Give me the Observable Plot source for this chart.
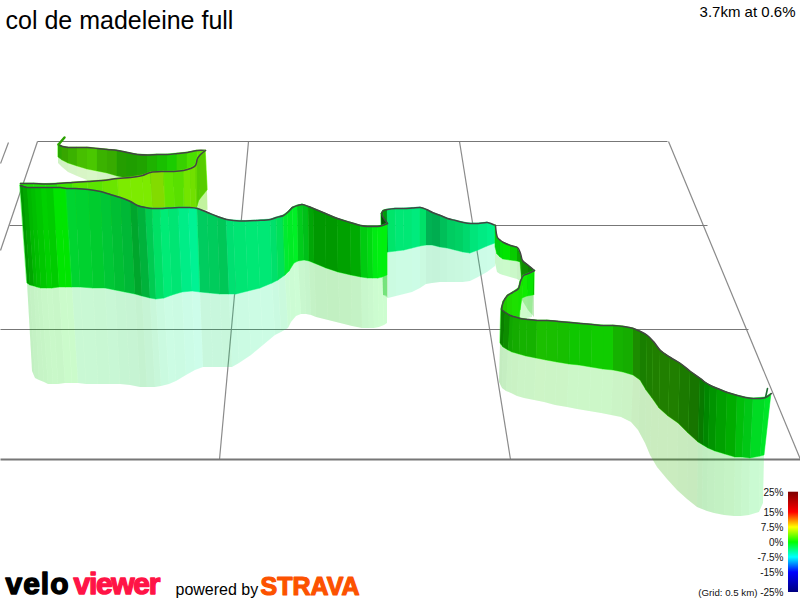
<!DOCTYPE html>
<html><head><meta charset="utf-8">
<script src="https://cdn.jsdelivr.net/npm/d3@7"></script>
<script src="https://cdn.jsdelivr.net/npm/@observablehq/plot@0.6"></script>
<style>
html,body{margin:0;padding:0;background:#fff;width:800px;height:600px;overflow:hidden}
.logoA text{letter-spacing:1px}
.logoB text{letter-spacing:-1.3px}
</style></head><body><div id="chart"></div>
<script>
// Ground grid
const gridH = [[37,141,667,141],[9,225,707,225],[0,329,748,329],[0,459,800,459]];
const gridV = [[37,141,0,250],[8,142,0,163],[248,141,219,459],[459,141,510,459],[668,141,800,459]];

// Section 1: far run, rising to the right
const s1X=[58,62,68,77,87,97,107,117,127,137,147,157,167,177,187,197,205];
const s1Top=[144,146,147,147,147,148,149,150,152,154,154.5,154,154,153,152,150,150];
const s1BaseX=[58,62,68,77,87,97,107,117,127,137,147,157,167,177,187,198,207];
const s1Base=[157,160,163,166,169,171,173,176,178,181,183,185,186,187,188,189,190];
const s1MirrorX=[58,62,68,77,87,97,107,117,127,137,147,157,167,177,187,198,208];
const s1Mirror=[163,167,172,176,180,186,190,195,200,205,206,206,206,207,207,209,210];
const s1Grade=[1.9,2.5,2.5,2.8,2.8,2.5,2.4,1.7,1.5,1.5,1.3,1,1,2,2.5,3];
const s1Shade=[.35,.35,.3,.25,.22,.3,.33,.38,.38,.36,.3,.25,.2,.18,.12,.1];

// Section 2: run back to the left
const s2X=[205,200,197,195,190,183,173,163,150,142,130,117,102,87,72,57,45,33,20];
const s2Top=[150,154,158,165,168,170,171,171,172,175,177,178,180,181,182,183,183.5,183,183];
const s2BaseX=[207,199,197,196,191,184,175,165,153,145,134,121,106,92,77,63,51,39,26];
const s2Base=[190,200,206,210,212,215,216,217,218,220,222,224,226,228,229,230,230,230,230];
const s2MirrorX=[207,199,198,197,192,186,177,168,156,148,137,125,110,96,82,69,57,45,32];
const s2Mirror=[210,212,214,225,225,225,225,225,225,225,225,225,225,225,225,225,225,225,225];
const s2Grade=[3.2,3,3.4,3.8,3.8,3,3.2,4.5,4,4,4,3.5,3,3,2,1,1,1];
const s2Shade=[.2,.2,.15,.12,.1,.12,.1,.14,.08,.08,.08,.1,.1,.1,.1,.1,.1,.12];

// Section 3: the long near wall on the left
const s3X=[20,23,27,31,35,41,46,53,60,66,75,88,100,110,120,130,137,145,152,160,168,178,188,197,207,217,226,233,245,257,270,276,283,287,292,297,302,308,313,325,337,350,360,367,372,377,382,387];
const s3Top=[185,186,187,187,187,187,187,187,187,188,188,189,191,194,197,201,205,207,208,208,207.5,207,207,208,212,216,219,220,220.5,220,219,217,215,212,207,205,204,206,208,213,218,222,225,226,226,226,225,223];
const s3BaseX=[27,30,34,37,41,47,52,59,66,72,80,93,105,115,125,135,142,150,156,164,172,182,192,200,210,220,229,236,248,260,272,278,285,289,294,298,304,309,314,326,338,351,361,368,373,378,382,387];
const s3Base=[283,285,286,287,288,288,288,287,287,287,287,288,288,290,292,294,296,298,299,298,295,292,291,292,293,294,294,294,291,288,283,280,275,271,263,261,260,261,263,268,272,275,277,278,278,278,277,275];
const s3MirrorX=[32,35,39,44,48,53,58,65,72,78,86,98,110,120,130,140,147,155,161,169,176,186,195,203,213,223,232,239,251,263,275,281,288,291,296,301,306,311,316,328,340,352,362,369,374,379,384,387];
const s3Mirror=[371,378,380,382,384,384,384,383,383,383,384,384,384,384,385,387,387,387,386,384,381,375,370,367,367,367,367,363,355,345,335,332,328,322,316,314,314,315,317,320,323,326,328,328,328,327,325,323];
const s3Grade=[0,0,0,0,0,0,0,0,0,-1.7,-1.7,-1.7,-2,-2,-2.2,-2,-2.5,-3,-3.4,-3.8,-3.8,-4.3,-4.6,-3.5,-3.4,-3.3,-3.8,-3.8,-3.8,-3.8,-3.6,-3,-1.5,-1.2,-1.2,-1,-1,-.3,-.1,0,0,-.1,-.6,-.6,-.6,-.5,-.4];
const s3Shade=[.4,.35,.28,.25,.22,.18,.2,.1,.1,.17,.18,.2,.22,.25,.28,.35,.3,.2,.12,.08,.1,.07,.05,.2,.2,.22,.12,.1,.09,.09,.12,.12,.08,.08,.06,.2,.25,.35,.4,.4,.37,.33,.2,.15,.08,.06,.06];

// Section 4: middle run behind the fold
const s4X=[387,384,381,383,387,395,403,412,420,426,432,440,447,455,463,470,478,487,495];
const s4Top=[223,219,213,210,209,208,208,207.5,207,209,212,215,218,220,222,223,223,222,225];
const s4BaseX=[387,385,382,384,388,396,404,412,420,426,432,440,447,455,463,470,478,487,495];
const s4Base=[252,251,250,251,252,251,250,248,246,245,245,247,248,250,252,253,250,246,243];
const s4MirrorX=[387,385,383,385,388,396,404,412,420,426,432,440,447,455,463,470,478,487,495];
const s4Mirror=[296,295,295,296,298,296,294,292,288,284,283,282,282,282,282,281,277,272,266];
const s4Grade=[-.5,-.5,-.5,-.5,-3.5,-3.8,-3.8,-4,-3.5,-3.5,-3.5,-3.5,-3.6,-3.6,-3.8,-4,-4.2,-4.3];
const s4Shade=[.45,.45,.45,.4,.1,.09,.09,.08,.12,.3,.32,.25,.2,.18,.15,.1,.08,.06];

// Section 5: the small hairpins
const s5X=[495,497,500,503,510,517,520,522,528,534];
const s5Top=[225,237,240,242,245,247,253,260,265,270];
const s5BaseX=[495,497,500,503,510,517,520,522,528,534];
const s5Base=[247,254,257,259,260,261,262,285,290,295];
const s5MirrorX=[495,497,500,503,510,517,520,522,528,534];
const s5Mirror=[263,272,274,275,277,279,281,300,310,317];
const s5Grade=[-.5,-.5,-.2,0,.3,.5,.8,.8,.8];
const s5Shade=[.2,.2,.12,.1,.2,.35,.4,.45,.5];

const s5bX=[534,528,523,520,518,512,507,503,501];
const s5bTop=[270,273,275,281,288,292,295,301,308];
const s5bBaseX=[533,527,522,520,518,512,507,503,501];
const s5bBase=[295,296,298,310,335,340,342,343,343];
const s5bMirrorX=[532,526,521,519,517,511,506,502,500];
const s5bMirror=[317,318,320,320,345,345,345,345,345];
const s5bGrade=[.2,.5,.8,.8,1,1.1,1.2,1];
const s5bShade=[.1,.08,.1,.12,.12,.15,.2,.3];

// Section 6: the near right run
const s6X=[501,505,510,513,520,527,537,547,558,570,580,592,603,613,623,633,640,647,653,660,670,680,690,700,705,710,717,727,737,745,753,765,771];
const s6Top=[309,312,315,316,318,319,320,320,321,322,323,324,325,325,326,328,331,335,341,350,357,363,371,378,382,385,388,392,395,397,398,397,393];
const s6BaseX=[500,503,508,512,519,526,536,546,557,569,579,591,603,613,623,633,640,646,652,659,668,678,688,698,703,708,715,725,735,742,750,760,764];
const s6Base=[343,347,350,352,354,356,358,360,362,364,365,367,369,370,372,375,380,390,398,408,416,423,433,442,445,448,451,454,457,457,458,456,455];
const s6MirrorX=[499,502,506,511,517,524,534,544,555,567,577,589,601,611,621,631,638,645,650,657,667,677,687,697,702,707,714,724,734,741,749,759,763];
const s6Mirror=[382,388,391,393,396,398,400,402,405,407,409,411,413,415,417,422,430,443,455,467,479,490,499,507,509,511,513,515,516,516,515,512,503];
const s6Grade=[.6,.7,.8,.9,.9,.9,1.1,1,.9,.6,.6,.6,.6,.9,.9,1.5,1.5,1.7,1.9,1.9,1.9,1.7,1.5,.5,0,0,0,0,-.4,-.8,-1.2,-1.3];
const s6Shade=[.5,.45,.35,.33,.3,.3,.25,.25,.25,.22,.22,.2,.2,.3,.32,.45,.5,.5,.5,.5,.5,.52,.54,.52,.47,.42,.37,.32,.25,.22,.14,.1];

// Route tips
const startTipX=[58,64]; const startTipY=[144,137];
const endTipX=[765,767]; const endTipY=[397,388];

// Text
const titleText="col de madeleine full";
const statText="3.7km at 0.6%";
const legendGrades=[25,15,7.5,0,-7.5,-15,-25];
const legendLabels=["25%","15%","7.5%","0%","-7.5%","-15%","-25%"];
const gridNote="(Grid: 0.5 km)";
const legendStops=[-25,-15,-7.5,0,7.5,15,25];
const legendColors=["#00007f","#0000ff","#00ffff","#00ff00","#ffff00","#ff0000","#7f0000"];
const legendBand=d3.range(-25,25,0.5);

const FONT="Liberation Sans, Helvetica, Arial, sans-serif";

function quads(xa,ya,xb,yb,grade,shade){
  const rows=[];
  grade.forEach((g,i)=>{
    for(const j of [i,i+1]) rows.push({q:i,x1:xa[j],y1:ya[j],x2:xb[j],y2:yb[j],g,s:shade[i]});
  });
  return rows;
}
function section(x,top,bx,base,mx,mirror,grade,shade){
  const wall=quads(x,top,bx,base,grade,shade);
  const ghost=quads(bx,base,mx,mirror,grade,shade);
  const geom={x1:"x1",y1:"y1",x2:"x2",y2:"y2",z:"q"};
  const edge=x.map((v,i)=>({x:v,y:top[i]}));
  return [
    Plot.area(ghost,{...geom,fill:"g",fillOpacity:0.19}),
    Plot.area(ghost,{...geom,fill:"#000",fillOpacity:{value:d=>d.s*0.15,scale:null}}),
    Plot.area(wall,{...geom,fill:"g",stroke:"g",strokeWidth:0.5}),
    Plot.area(wall,{...geom,fill:"#000",fillOpacity:{value:d=>d.s,scale:null}}),
    Plot.line(edge,{x:"x",y:"y",stroke:"#444",strokeWidth:1.5,curve:"catmull-rom"})
  ];
}
const seg=a=>a.map(([x1,y1,x2,y2])=>({x1,y1,x2,y2}));
const legendY=g=>542-2*g;
const txt=(t,o)=>Plot.text([t],{text:d=>d,fontFamily:FONT,...o});

const chart=Plot.plot({
  width:800,height:600,margin:0,
  style:{background:"#fff",fontFamily:FONT},
  x:{domain:[0,800],range:[0,800],axis:null},
  y:{domain:[0,600],range:[0,600],axis:null},
  color:{type:"linear",domain:legendStops,range:legendColors,interpolate:"rgb",clamp:true},
  marks:[
    Plot.link(seg(gridV),{x1:"x1",y1:"y1",x2:"x2",y2:"y2",stroke:"#8a8a8a",strokeWidth:1.2}),
    Plot.link(seg(gridH.slice(0,3)),{x1:"x1",y1:"y1",x2:"x2",y2:"y2",stroke:"#777",strokeWidth:1.2}),
    Plot.link(seg(gridH.slice(3)),{x1:"x1",y1:"y1",x2:"x2",y2:"y2",stroke:"#777",strokeWidth:2}),
    ...section(s1X,s1Top,s1BaseX,s1Base,s1MirrorX,s1Mirror,s1Grade,s1Shade),
    ...section(s2X,s2Top,s2BaseX,s2Base,s2MirrorX,s2Mirror,s2Grade,s2Shade),
    ...section(s4X,s4Top,s4BaseX,s4Base,s4MirrorX,s4Mirror,s4Grade,s4Shade),
    ...section(s5X,s5Top,s5BaseX,s5Base,s5MirrorX,s5Mirror,s5Grade,s5Shade),
    ...section(s5bX,s5bTop,s5bBaseX,s5bBase,s5bMirrorX,s5bMirror,s5bGrade,s5bShade),
    ...section(s6X,s6Top,s6BaseX,s6Base,s6MirrorX,s6Mirror,s6Grade,s6Shade),
    ...section(s3X,s3Top,s3BaseX,s3Base,s3MirrorX,s3Mirror,s3Grade,s3Shade),
    Plot.line(startTipX.map((v,i)=>({x:v,y:startTipY[i]})),{x:"x",y:"y",stroke:"#2aa000",strokeWidth:2.5}),
    Plot.line(endTipX.map((v,i)=>({x:v,y:endTipY[i]})),{x:"x",y:"y",stroke:"#1c6a30",strokeWidth:1.6}),
    // Title and readout
    txt(titleText,{x:5,y:20,textAnchor:"start",fontSize:25,fill:"#000"}),
    txt(statText,{x:795,y:12,textAnchor:"end",fontSize:15,fill:"#000"}),
    // Legend
    Plot.rect(legendBand,{x1:()=>788,x2:()=>798,y1:g=>legendY(g),y2:g=>legendY(g+0.5)-0.3,fill:g=>g+0.25}),
    Plot.text(legendGrades,{x:()=>783,y:legendY,text:(g,i)=>legendLabels[i],textAnchor:"end",fontSize:10,fontFamily:FONT,fill:"#111"}),
    txt(gridNote,{x:757,y:592,textAnchor:"end",fontSize:9.7,fill:"#111"}),
    // Brand marks
    txt("velo",{x:5,y:584,textAnchor:"start",fontSize:30,fontWeight:"bold",fill:"#000",stroke:"#000",strokeWidth:1.4,className:"logoA"}),
    txt("viewer",{x:73,y:584,textAnchor:"start",fontSize:30,fontWeight:"bold",fill:"#ff1446",stroke:"#ff1446",strokeWidth:1.4,className:"logoB"}),
    txt("powered by",{x:175,y:589,textAnchor:"start",fontSize:16,fill:"#000"}),
    txt("STRAVA",{x:260,y:586.5,textAnchor:"start",fontSize:25,fontWeight:"bold",fill:"#fc5200",stroke:"#fc5200",strokeWidth:1.2})
  ]
});
document.getElementById("chart").appendChild(chart);
</script></body></html>
